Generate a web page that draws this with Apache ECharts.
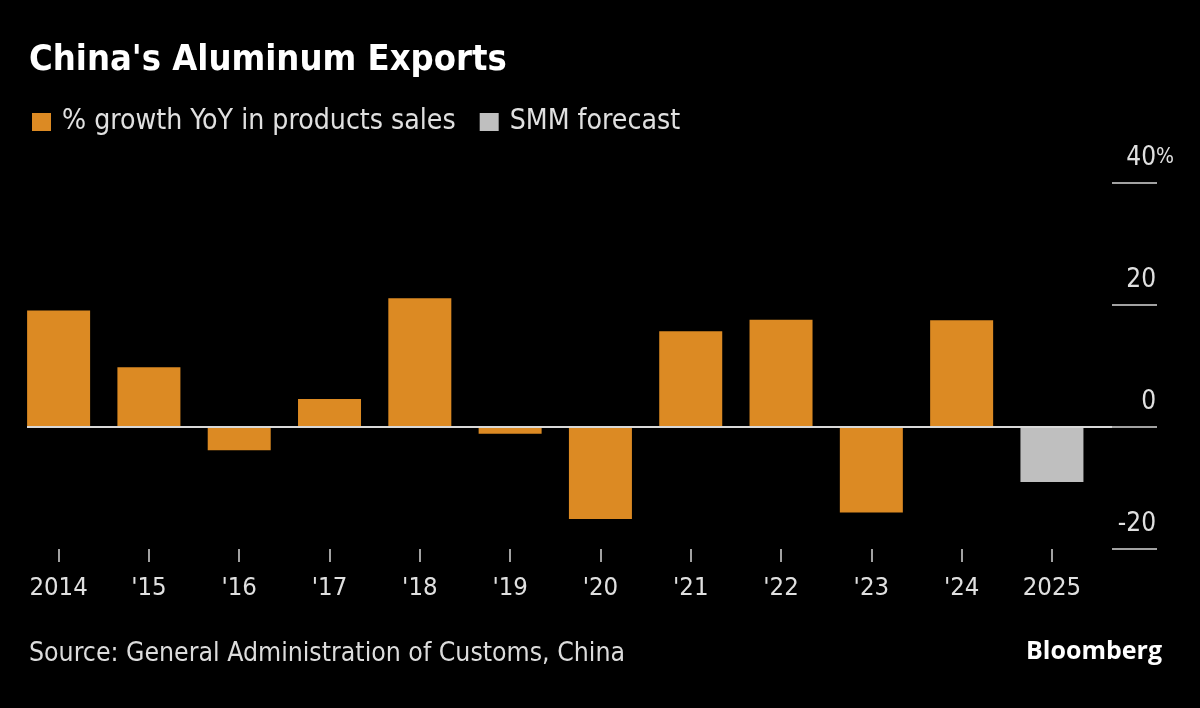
<!DOCTYPE html>
<html>
<head>
<meta charset="utf-8">
<script src="https://cdn.jsdelivr.net/npm/echarts@6/dist/echarts.min.js"></script>
<style>
html,body{margin:0;padding:0;background:#000;}
#chart{width:1200px;height:708px;}
</style>
</head>
<body>
<div id="chart"></div>
<script>
const categories = ["2014", "'15", "'16", "'17", "'18", "'19", "'20", "'21", "'22", "'23", "'24", "2025"];
const growthValues = [19.1, 9.8, -3.8, 4.6, 21.1, -1.1, -15.1, 15.7, 17.6, -14.0, 17.5];
const forecastValues = [-9.0];
const forecastIndex = 11;
const yTicks = [-20, 0, 20, 40];

const FONT = "'DejaVu Sans Condensed', 'Liberation Sans Narrow', sans-serif";
const idx = categories.map((c, i) => i);

const chart = echarts.init(document.getElementById('chart'), null, {renderer: 'canvas'});
chart.setOption({
  backgroundColor: '#000000',
  animation: false,
  title: [
    {
      text: "China's Aluminum Exports",
      left: 24, top: 38,
      textStyle: {color: '#ffffff', fontFamily: FONT, fontWeight: 'bold', fontSize: 36}
    },
    {
      text: 'Source: General Administration of Customs, China',
      left: 24, top: 636,
      textStyle: {color: '#dcdcdc', fontFamily: FONT, fontWeight: 'normal', fontSize: 26.4}
    },
    {
      text: 'Bloomberg',
      right: 33, top: 634,
      textStyle: {color: '#ffffff', fontFamily: "'Open Sans', Inter, sans-serif", fontWeight: 'bold', fontSize: 25, letterSpacing: -0.3}
    }
  ],
  legend: {
    left: 32, top: 108,
    padding: 0,
    icon: 'rect',
    itemWidth: 19, itemHeight: 18,
    itemGap: 24,
    textStyle: {color: '#e0e0e0', fontFamily: FONT, fontSize: 28.2, padding: [0, 0, 0, 6]},
    data: ['% growth YoY in products sales', 'SMM forecast']
  },
  grid: {left: 27, right: 88, top: 183, bottom: 159},
  xAxis: {
    type: 'value',
    min: -0.35, max: 11.665,
    position: 'bottom',
    axisLine: {show: false, onZero: false},
    splitLine: {show: false},
    axisTick: {show: true, customValues: idx, length: 13, lineStyle: {color: '#d8d8d8', width: 1.5}},
    axisLabel: {
      show: true, customValues: idx, margin: 26,
      formatter: v => categories[Math.round(v)],
      color: '#e0e0e0', fontFamily: FONT, fontSize: 25.5
    }
  },
  yAxis: {
    type: 'value',
    position: 'right',
    min: yTicks[0], max: yTicks[yTicks.length - 1], interval: 20,
    axisLine: {show: false, onZero: false},
    splitLine: {show: false},
    axisTick: {show: true, inside: false, length: 45, lineStyle: {color: '#d8d8d8', width: 1.5}},
    axisLabel: {
      margin: 62, align: 'right', verticalAlign: 'middle',
      padding: [0, 0, 50, 0],
      color: '#e0e0e0', fontFamily: FONT, fontSize: 26,
      formatter: v => '{a|' + v + '}' + (v === yTicks[yTicks.length - 1] ? '{p|%}' : '{h|%}'),
      rich: {
        a: {color: '#e0e0e0', fontFamily: FONT, fontSize: 26},
        p: {color: '#e0e0e0', fontFamily: FONT, fontSize: 21},
        h: {color: 'rgba(0,0,0,0)', fontFamily: FONT, fontSize: 21}
      }
    }
  },
  series: [
    {
      name: '% growth YoY in products sales',
      type: 'bar',
      stack: 'all',
      barWidth: 63,
      itemStyle: {color: '#dc8a23'},
      data: growthValues.map((v, i) => [i, v]),
      markLine: {
        silent: true,
        symbol: ['none', 'none'],
        label: {show: false},
        lineStyle: {color: '#d8d8d8', width: 2, type: 'solid'},
        data: [{yAxis: 0}],
        z: 10
      }
    },
    {
      name: 'SMM forecast',
      type: 'bar',
      stack: 'all',
      barWidth: 63,
      itemStyle: {color: '#bfbfbf'},
      data: forecastValues.map((v, i) => [forecastIndex + i, v])
    }
  ]
});
</script>
</body>
</html>
